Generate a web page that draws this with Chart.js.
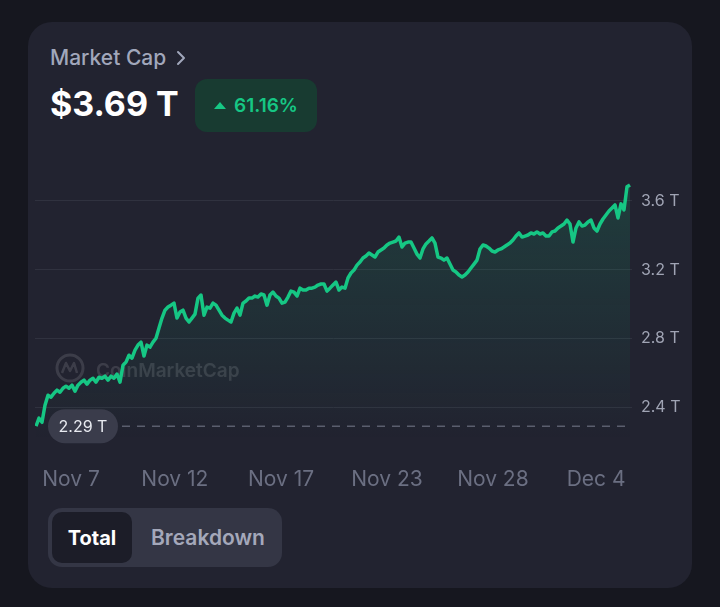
<!DOCTYPE html>
<html>
<head>
<meta charset="utf-8">
<title>Market Cap</title>
<script src="https://cdn.jsdelivr.net/npm/chart.js@4.4.1/dist/chart.umd.min.js"></script>
<style>
  html, body {
    margin: 0;
    padding: 0;
    width: 720px;
    height: 607px;
    overflow: hidden;
    background: #16171f;
    font-family: Inter, 'Noto Sans', sans-serif;
  }
  .card {
    position: absolute;
    left: 28px; top: 22px;
    width: 664px; height: 566px;
    background: #222330;
    border-radius: 24px;
  }
  .title {
    position: absolute;
    left: 50px; top: 45px;
    font-size: 21px;
    font-weight: 500;
    color: #a1a7bb;
    line-height: normal;
    white-space: nowrap;
  }
  .title svg { position: absolute; left: 125px; top: 5px; }
  .price {
    position: absolute;
    left: 50px; top: 83px;
    font-size: 34px;
    font-weight: 700;
    color: #ffffff;
    line-height: normal;
  }
  .badge {
    position: absolute;
    left: 195px; top: 79px;
    width: 122px; height: 53px;
    background: #183b31;
    border-radius: 12px;
    color: #16c784;
    font-size: 19px;
    font-weight: 600;
    display: flex;
    align-items: center;
    justify-content: center;
    gap: 8px;
  }
  .chart-wrap {
    position: absolute;
    left: 28px; top: 150px;
    width: 664px; height: 350px;
  }
  .toggle {
    position: absolute;
    left: 48px; top: 508px;
    width: 234px; height: 59px;
    background: #343645;
    border-radius: 14px;
  }
  .toggle .on {
    position: absolute;
    left: 4px; top: 4px;
    width: 80px; height: 51px;
    background: #1c1d28;
    border-radius: 10px;
    color: #ffffff;
    font-size: 20px;
    font-weight: 700;
    display: flex; align-items: center; justify-content: center;
  }
  .toggle .off {
    position: absolute;
    left: 103px; top: 4px;
    height: 51px;
    color: #a4a8ba;
    font-size: 21px;
    font-weight: 600;
    display: flex; align-items: center;
  }
</style>
</head>
<body>
<div class="card"></div>
<div class="title">Market Cap
  <svg width="12" height="16" viewBox="0 0 12 16"><polyline points="3,2 9,8 3,14" fill="none" stroke="#a1a7bb" stroke-width="2" stroke-linecap="round" stroke-linejoin="round"/></svg>
</div>
<div class="price">$3.69 T</div>
<div class="badge">
  <svg width="12" height="7" viewBox="0 0 12 7"><polygon points="6,0 12,7 0,7" fill="#16c784"/></svg>
  <span>61.16%</span>
</div>
<div class="chart-wrap"><canvas id="capChart"></canvas></div>
<div class="toggle">
  <div class="on">Total</div>
  <div class="off">Breakdown</div>
</div>

<script>
'use strict';

// ============================================================================
// DATA (total market cap, trillions USD)
// ============================================================================

const marketCap = [
    2.290, 2.337, 2.313, 2.412, 2.470, 2.459, 2.482, 2.500, 2.488, 2.511,
    2.523, 2.511, 2.529, 2.494, 2.529, 2.546, 2.558, 2.535, 2.558, 2.569,
    2.546, 2.575, 2.569, 2.581, 2.558, 2.581, 2.569, 2.593, 2.546, 2.645,
    2.663, 2.703, 2.686, 2.733, 2.762, 2.779, 2.698, 2.762, 2.750, 2.779,
    2.802, 2.861, 2.919, 2.965, 2.983, 2.994, 3.006, 2.919, 2.954, 2.965,
    2.919, 2.896, 2.919, 2.942, 3.035, 3.053, 2.936, 2.983, 2.977, 3.006,
    2.994, 2.965, 2.936, 2.919, 2.907, 2.896, 2.948, 2.977, 2.936, 3.006,
    3.018, 3.035, 3.035, 3.047, 3.041, 3.059, 3.053, 2.994, 3.053, 3.070,
    3.047, 3.035, 3.006, 3.012, 3.041, 3.076, 3.070, 3.047, 3.093, 3.082,
    3.082, 3.093, 3.093, 3.099, 3.111, 3.117, 3.117, 3.076, 3.093, 3.111,
    3.128, 3.082, 3.099, 3.093, 3.152, 3.181, 3.198, 3.227, 3.245, 3.268,
    3.280, 3.297, 3.286, 3.274, 3.303, 3.315, 3.326, 3.344, 3.355, 3.361,
    3.367, 3.390, 3.332, 3.355, 3.361, 3.361, 3.326, 3.291, 3.268, 3.321,
    3.350, 3.367, 3.385, 3.355, 3.274, 3.268, 3.256, 3.268, 3.233, 3.198,
    3.187, 3.169, 3.158, 3.169, 3.187, 3.210, 3.233, 3.256, 3.321, 3.344,
    3.338, 3.326, 3.309, 3.303, 3.315, 3.321, 3.332, 3.344, 3.355, 3.373,
    3.396, 3.414, 3.390, 3.396, 3.402, 3.414, 3.408, 3.420, 3.408, 3.414,
    3.396, 3.396, 3.420, 3.425, 3.443, 3.454, 3.466, 3.489, 3.466, 3.361,
    3.443, 3.478, 3.454, 3.460, 3.478, 3.489, 3.443, 3.425, 3.466, 3.495,
    3.518, 3.542, 3.559, 3.577, 3.501, 3.583, 3.548, 3.682, 3.693
];

/** X tick labels and where they sit, in sample-index units */
const xTickLabels = ['Nov 7', 'Nov 12', 'Nov 17', 'Nov 23', 'Nov 28', 'Dec 4'];
const xTickIndex = [11.7, 46.3, 81.7, 117, 152.3, 186.7];

/** Y grid / tick values, trillions */
const yTickValues = [2.4, 2.8, 3.2, 3.6];

const startLabel = '2.29 T';

// ============================================================================
// PLUGINS
// ============================================================================

/** Draws the faint CoinMarketCap watermark behind the line */
const watermarkPlugin = {
    id: 'watermark',
    beforeDatasetsDraw(chart) {
        const c = chart.ctx;
        const area = chart.chartArea;
        const cx = area.left + 35;
        const cy = 218;
        c.save();
        c.strokeStyle = 'rgba(255,255,255,0.12)';
        c.fillStyle = 'rgba(255,255,255,0.12)';
        c.lineWidth = 3;
        c.beginPath();
        c.arc(cx, cy, 13, 0, Math.PI * 2);
        c.stroke();
        c.lineWidth = 2.5;
        c.lineJoin = 'round';
        c.beginPath();
        c.moveTo(cx - 8, cy + 5);
        c.lineTo(cx - 4, cy - 5);
        c.lineTo(cx, cy + 3);
        c.lineTo(cx + 4, cy - 5);
        c.lineTo(cx + 7, cy + 5);
        c.stroke();
        c.font = '600 19px Inter, sans-serif';
        c.textBaseline = 'middle';
        c.fillText('CoinMarketCap', cx + 26, cy + 3);
        c.restore();
    }
};

/** Dashed reference line at the opening value, with its pill label */
const startLinePlugin = {
    id: 'startLine',
    afterDatasetsDraw(chart) {
        const c = chart.ctx;
        const area = chart.chartArea;
        const y = chart.scales.y.getPixelForValue(marketCap[0]);
        const pillX = area.left + 13;
        const pillW = 70;
        const pillH = 34;
        c.save();
        c.strokeStyle = '#5b5e6e';
        c.lineWidth = 1.5;
        c.setLineDash([8, 7]);
        c.beginPath();
        c.moveTo(pillX + pillW + 4, y);
        c.lineTo(area.right - 4, y);
        c.stroke();
        c.setLineDash([]);
        c.fillStyle = '#3a3c4b';
        c.beginPath();
        c.roundRect(pillX, y - pillH / 2, pillW, pillH, pillH / 2);
        c.fill();
        c.fillStyle = '#e8eaf0';
        c.font = '400 16px Inter, sans-serif';
        c.textAlign = 'center';
        c.textBaseline = 'middle';
        c.fillText(startLabel, pillX + pillW / 2, y + 1);
        c.restore();
    }
};

// ============================================================================
// CHART
// ============================================================================

function renderCapChart() {
    const canvas = document.getElementById('capChart');
    if (!canvas) return;

    new Chart(canvas.getContext('2d'), {
        type: 'line',
        data: {
            datasets: [{
                data: marketCap.map((v, i) => ({ x: i, y: v })),
                borderColor: '#16c784',
                borderWidth: 3.5,
                borderJoinStyle: 'round',
                pointRadius: 0,
                tension: 0,
                fill: 'start',
                backgroundColor: (ctx) => {
                    const area = ctx.chart.chartArea;
                    if (!area) return 'rgba(22,199,132,0.08)';
                    const g = ctx.chart.ctx.createLinearGradient(0, area.top, 0, area.bottom);
                    g.addColorStop(0, 'rgba(22,199,132,0.17)');
                    g.addColorStop(1, 'rgba(22,199,132,0.0)');
                    return g;
                }
            }]
        },
        options: {
            responsive: true,
            maintainAspectRatio: false,
            animation: false,
            layout: { padding: { top: 20, left: 7, right: 0, bottom: 0 } },
            plugins: {
                legend: { display: false },
                tooltip: { enabled: false }
            },
            scales: {
                x: {
                    type: 'linear',
                    min: -0.33,
                    max: 198.67,
                    afterBuildTicks: (s) => { s.ticks = xTickIndex.map(v => ({ value: v })); },
                    afterFit: (s) => {
                        s.height = 60;
                        s.paddingLeft = 0;
                        s.paddingRight = 0;
                    },
                    grid: { display: false, drawTicks: false },
                    border: { display: false },
                    ticks: {
                        autoSkip: false,
                        maxRotation: 0,
                        padding: 27,
                        color: '#6b6f82',
                        font: { family: 'Inter', size: 21, weight: 400 },
                        callback: (v, i) => xTickLabels[i]
                    }
                },
                y: {
                    position: 'right',
                    min: 2.21,
                    max: 3.78,
                    afterBuildTicks: (s) => { s.ticks = yTickValues.map(v => ({ value: v })); },
                    afterFit: (s) => { s.width = 60; },
                    grid: { color: '#30323f', lineWidth: 1, drawTicks: false },
                    border: { display: false },
                    ticks: {
                        padding: 9,
                        color: '#a0a4b4',
                        font: { family: 'Inter', size: 16, weight: 400 },
                        callback: (v) => v.toFixed(1) + ' T'
                    }
                }
            }
        },
        plugins: [watermarkPlugin, startLinePlugin]
    });
}

renderCapChart();
</script>
</body>
</html>
